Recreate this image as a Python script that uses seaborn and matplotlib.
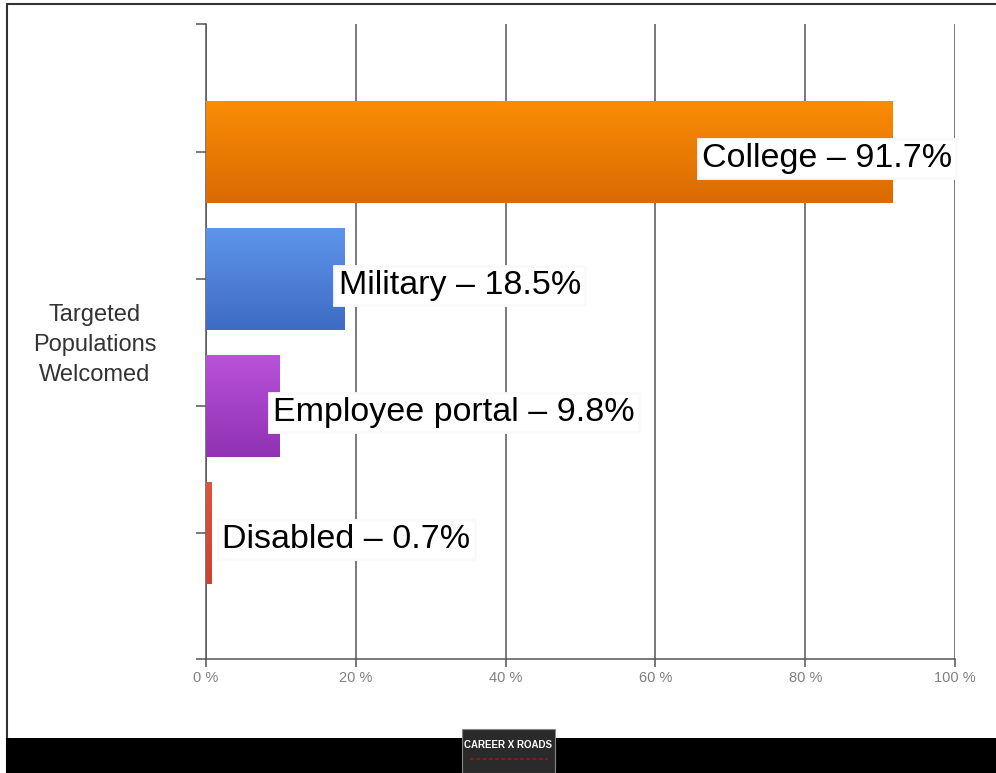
import numpy as np
import pandas as pd
import matplotlib
matplotlib.use("Agg")
import matplotlib.pyplot as plt
from matplotlib.patches import Rectangle
from matplotlib.lines import Line2D
from matplotlib.colors import LinearSegmentedColormap
import seaborn as sns

# ---- data ----
categories = ["College", "Military", "Employee portal", "Disabled"]
values = [91.7, 18.5, 9.8, 0.7]
x_ticks = [0, 20, 40, 60, 80, 100]
x_tick_labels = ["0 %", "20 %", "40 %", "60 %", "80 %", "100 %"]
y_title = "Targeted\nPopulations\nWelcomed"

top_colors = ["#FA8C05", "#5E95EA", "#B852DA", "#DC5540"]
bottom_colors = ["#DA6A02", "#3E6BC4", "#9031B2", "#C94330"]

sns.set_theme(style="white")
plt.rcParams["font.family"] = ["Liberation Sans", "DejaVu Sans"]

W, H = 996, 773
fig = plt.figure(figsize=(W / 100, H / 100), dpi=100)
fig.patch.set_facecolor("white")

def fx(px):
    return px / W

def fy(py):
    return 1 - py / H

ax = fig.add_axes([fx(206), fy(659), fx(955) - fx(206), fy(24) - fy(659)])

df = pd.DataFrame({"category": categories, "value": values})
sns.barplot(data=df, x="value", y="category", orient="h", ax=ax,
            width=0.8, color="#F08000", saturation=1, zorder=3)

ax.set_xlim(0, 100)
ax.set_ylim(3.99, -1.01)

# gradients on bars
for patch, c_top, c_bot in zip(ax.patches, top_colors, bottom_colors):
    x0, y0 = patch.get_x(), patch.get_y()
    w, h = patch.get_width(), patch.get_height()
    patch.set_facecolor(c_bot)
    patch.set_edgecolor("none")
    cmap = LinearSegmentedColormap.from_list("g", [c_top, c_bot])
    grad = np.linspace(0, 1, 64).reshape(-1, 1)
    im = ax.imshow(grad, cmap=cmap, aspect="auto",
                   extent=[x0, x0 + w, y0 + h, y0], zorder=3.5,
                   interpolation="bicubic")
    im.set_clip_path(patch)
ax.set_xlim(0, 100)
ax.set_ylim(3.99, -1.01)

# grid & spines
ax.set_xticks(x_ticks)
ax.set_xticklabels(x_tick_labels, color="#808080", fontsize=10.5)
ax.grid(axis="x", color="#555555", linewidth=1.1, zorder=1)
ax.grid(axis="y", visible=False)
ax.set_axisbelow(True)
for s in ["top", "right"]:
    ax.spines[s].set_visible(False)
for s in ["left", "bottom"]:
    ax.spines[s].set_color("#555555")
    ax.spines[s].set_linewidth(1.1)
ax.tick_params(axis="x", direction="out", length=6, width=1.1,
               color="#555555", pad=3, bottom=True)
ax.set_yticks([0, 1, 2, 3])
ax.set_yticks([-1.01, 3.99], minor=True)
ax.set_yticklabels([])
ax.tick_params(axis="y", which="both", direction="out", length=7, width=1.1,
               color="#555555", left=True)
ax.set_ylabel("")
ax.set_xlabel("")

# value labels
for i, (cat, v) in enumerate(zip(categories, values)):
    label = f"{cat} \u2013 {v}%"
    if v > 80:
        xpos, ha = 99.6, "right"
    else:
        xpos, ha = max(v - 0.8, 2.2), "left"
    ax.text(xpos, i + 0.05, label, ha=ha, va="center", fontsize=24.5,
            color="black", zorder=6,
            bbox=dict(boxstyle="square,pad=0.12", facecolor="white",
                      edgecolor="#fafafa", linewidth=2))

# y title
fig.text(fx(95), fy(345), y_title, ha="center", va="center",
         fontsize=17, color="#333333", linespacing=1.45)

# frame lines
fig.add_artist(Line2D([fx(7), fx(7)], [fy(4), 0], color="#333333",
                      linewidth=1.5, transform=fig.transFigure))
fig.add_artist(Line2D([fx(7), 1], [fy(4), fy(4)], color="#333333",
                      linewidth=1.5, transform=fig.transFigure))

# bottom black band
fig.add_artist(Rectangle((fx(6), 0), 1 - fx(6), fy(738), facecolor="black",
                         edgecolor="none", transform=fig.transFigure, zorder=5))
# logo
fig.add_artist(Rectangle((fx(462), 0), fx(555) - fx(462), fy(729),
                         facecolor="#2a2a2a", edgecolor="#888888", linewidth=0.8,
                         transform=fig.transFigure, zorder=6))
fig.text(fx(508), fy(745), "CAREER X ROADS", ha="center", va="center",
         fontsize=7, color="white", fontweight="bold", zorder=7)
fig.add_artist(Line2D([fx(470), fx(548)], [fy(759), fy(759)], color="#7a1f1f",
                      linewidth=1.5, linestyle=(0, (2, 1)),
                      transform=fig.transFigure, zorder=7))

fig.savefig("out.png", dpi=100)
